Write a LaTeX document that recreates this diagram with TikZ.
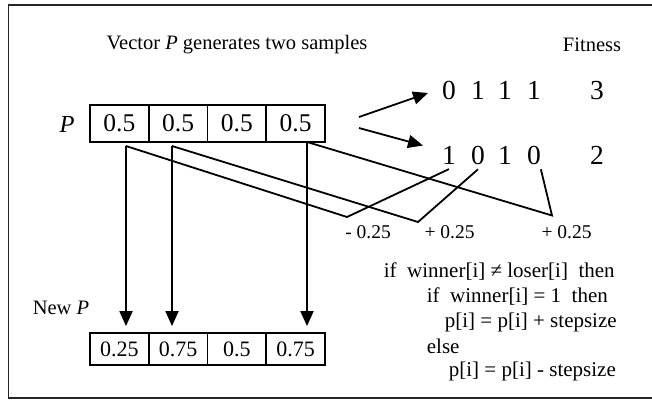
\documentclass[tikz,border=0pt]{standalone}
\usepackage{fontspec}
\setmainfont{Liberation Serif}
\usetikzlibrary{arrows.meta,calc}

\begin{document}
\begin{tikzpicture}[x=1pt, y=-1pt, line width=1.8pt,
  cell/.style={draw, minimum width=58.75pt, minimum height=37pt, inner sep=0pt,
               font=\fontsize{25.5}{29}\selectfont},
  newcell/.style={draw, minimum width=58.75pt, minimum height=32pt, inner sep=0pt,
                  font=\fontsize{22}{26}\selectfont},
  bit/.style={inner sep=0pt, outer xsep=0pt, outer ysep=5pt,
              font=\fontsize{27.5}{31}\selectfont},
  label/.style={inner sep=0pt, font=\fontsize{20.5}{24}\selectfont},
  code/.style={inner sep=0pt, anchor=west, font=\fontsize{21}{25}\selectfont},
  fatarrow/.style={-{Triangle[length=15pt,width=13pt]}}
]
\useasboundingbox (0,0) rectangle (652,400);

% outer frame (open on the right)
\draw[black!85] (652,5) -- (8.5,5) -- (8.5,398) -- (652,398);

% headings
\node[label] (title) at (237,45) {Vector \textit{P} generates two samples};
\node[label] (fit) at (592,45) {Fitness};

% probability vector P
\node[inner sep=0pt, font=\fontsize{24.5}{28}\selectfont\itshape] (plab) at (67,124) {P};
\node[cell] (p1) at (119.4,123.5) {0.5};
\node[cell] (p2) at (178.1,123.5) {0.5};
\node[cell] (p3) at (236.9,123.5) {0.5};
\node[cell] (p4) at (295.6,123.5) {0.5};

% the two samples
\node[bit] (a1) at (449,90.5) {0};
\node[bit] (a2) at (478,90.5) {1};
\node[bit] (a3) at (505,90.5) {1};
\node[bit] (a4) at (534,90.5) {1};
\node[bit] (fa) at (597,90.5) {3};
\node[bit] (b1) at (449,155) {1};
\node[bit] (b2) at (478,155) {0};
\node[bit] (b3) at (505,155) {1};
\node[bit] (b4) at (534,155) {0};
\node[bit] (fb) at (597,155) {2};

% sampling arrows
\coordinate (g1) at (359,117);
\coordinate (g2) at (359,128);
\coordinate (h1) at (428,93);
\coordinate (h2) at (423,145.5);
\draw[fatarrow] (g1) -- (h1);
\draw[fatarrow] (g2) -- (h2);

% new vector P
\node[label] (nlab) at (61,308) {New \textit{P}};
\node[newcell] (n1) at (119.4,349) {0.25};
\node[newcell] (n2) at (178.1,349) {0.75};
\node[newcell] (n3) at (236.9,349) {0.5};
\node[newcell] (n4) at (295.6,349) {0.75};

% update paths
\coordinate (s1) at (126,146);
\coordinate (s2) at (172,146);
\coordinate (s3) at (307,142);
\coordinate (j1) at (347,217);
\coordinate (j2) at (418,222);
\coordinate (j3) at (552,215.5);

\draw (s1) -- (j1) -- (b1.south);
\draw (s2) -- (j2) -- (b2.south);
\draw (s3) -- (j3) -- (b4.south east);

\draw[fatarrow] (s1) -- ($(s1 |- n1.north)+(0,-6)$);
\draw[fatarrow] (s2) -- ($(s2 |- n2.north)+(0,-6)$);
\draw[fatarrow] (s3) -- ($(s3 |- n4.north)+(0,-6)$);

% step labels
\node[inner sep=0pt, font=\fontsize{19.5}{23}\selectfont] (d1) at (368,232) {- 0.25};
\node[inner sep=0pt, font=\fontsize{19.5}{23}\selectfont] (d2) at (449.5,232) {+ 0.25};
\node[inner sep=0pt, font=\fontsize{19.5}{23}\selectfont] (d3) at (566.5,232) {+ 0.25};

% update rule
\node[code] (c1) at (383,272) {if\ \ winner[i] ≠ loser[i]\ \ then};
\node[code] (c2) at (426,297) {if\ \ winner[i] = 1\ \ then};
\node[code] (c3) at (444,322) {p[i] = p[i] + stepsize};
\node[code] (c4) at (426,346) {else};
\node[code] (c5) at (448,371) {p[i] = p[i] - stepsize};
\end{tikzpicture}
\end{document}
